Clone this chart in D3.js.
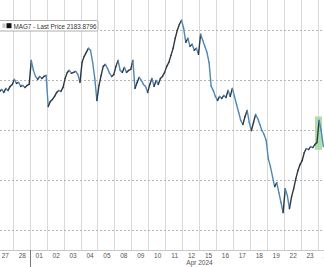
<!DOCTYPE html>
<html><head><meta charset="utf-8">
<script src="https://cdn.jsdelivr.net/npm/d3@7"></script>
<style>
html,body{margin:0;padding:0;background:#fff;}
svg{display:block;font-family:"Liberation Sans",Arial,sans-serif;}
</style></head>
<body><div id="chart"></div>
<script>
const dayLabels = ["27","28","01","02","03","04","05","08","09","10","11","12","15","16","17","18","19","22","23","24"];
const monthLabel = "Apr 2024";
const monthLabelAt = 12;      // day boundary index where month label is centred
const monthStartIdx = 2;      // first April trading day
const gridValues = [2300, 2250, 2200, 2150, 2100];
const legendText = "MAG7 - Last Price 2183.8796";
// intraday prices per trading day (8 samples per session)
const prices = [
  [2242,2239,2241,2238,2242,2240,2244,2246],
  [2251,2247,2248,2244,2245,2243,2245,2246],
  [2270,2260,2254,2251,2254,2252,2254,2255],
  [2224,2229,2231,2234,2238,2240,2239,2243],
  [2252,2258,2260,2257,2258,2259,2256,2248],
  [2268,2274,2278,2282,2280,2268,2252,2230],
  [2245,2255,2264,2266,2262,2257,2254,2256],
  [2264,2270,2260,2258,2263,2258,2260,2261],
  [2270,2242,2248,2253,2250,2246,2244,2238],
  [2246,2252,2244,2250,2246,2252,2254,2258],
  [2264,2268,2275,2282,2292,2300,2306,2310],
  [2302,2288,2292,2284,2286,2280,2282,2276],
  [2296,2290,2284,2278,2268,2244,2240,2234],
  [2230,2234,2232,2235,2233,2240,2234,2242],
  [2234,2226,2218,2210,2206,2214,2220,2208],
  [2200,2208,2216,2212,2206,2200,2196,2190],
  [2172,2164,2154,2144,2148,2138,2128,2118],
  [2142,2135,2122,2134,2142,2152,2160,2166],
  [2170,2178,2182,2181,2184,2183,2186,2188],
  [2210,2200,2183.8796]
];
const samplesPerDay = 8;
const highlightX = [18.82, 19.23];   // in trading-day units
const highlightY = [2180.7, 2214];

const W = 324, H = 267;
const svg = d3.select("#chart").append("svg").attr("width", W).attr("height", H);

const x = d3.scaleLinear().domain([0, 20]).range([-3.63, -3.63 + 16.93 * 20]);
const y = d3.scaleLinear().domain([2100, 2300]).range([230.7, 30.3]);
const axisY = 250;

// vertical day gridlines
svg.append("g").selectAll("line").data(d3.range(1, 20)).join("line")
  .attr("x1", d => x(d)).attr("x2", d => x(d))
  .attr("y1", 0).attr("y2", axisY)
  .attr("stroke", "#d9d9d9").attr("stroke-width", 1).attr("shape-rendering", "crispEdges");

// horizontal dotted gridlines
svg.append("g").selectAll("line").data(gridValues).join("line")
  .attr("x1", 0).attr("x2", W)
  .attr("y1", d => y(d)).attr("y2", d => y(d))
  .attr("stroke", "#b5b5b5").attr("stroke-width", 1).attr("stroke-dasharray", "1.5,2.5")
  .attr("shape-rendering", "crispEdges");

// highlight rect
svg.append("rect")
  .attr("x", x(highlightX[0])).attr("width", x(highlightX[1]) - x(highlightX[0]))
  .attr("y", y(highlightY[1])).attr("height", y(highlightY[0]) - y(highlightY[1]))
  .attr("fill", "#9fd89f").attr("opacity", 0.85);

// flatten series
const pts = [];
prices.forEach((arr, i) => arr.forEach((v, j) => pts.push({u: i + (j + 0.5) / samplesPerDay, v})));

const segs = [];
for (let k = 1; k < pts.length; k++) segs.push([pts[k - 1], pts[k]]);
svg.append("g").selectAll("line").data(segs).join("line")
  .attr("x1", d => x(d[0].u)).attr("y1", d => y(d[0].v))
  .attr("x2", d => x(d[1].u)).attr("y2", d => y(d[1].v))
  .attr("stroke", d => d[1].v < d[0].v ? "#4f88b8" : "#2e3840")
  .attr("stroke-width", 1.4).attr("stroke-linecap", "round");

// x axis
const axis = d3.axisBottom(x)
  .tickValues(d3.range(dayLabels.length).map(i => i + 0.5))
  .tickFormat((d, i) => dayLabels[i]).tickSize(0).tickPadding(3);
const gx = svg.append("g").attr("transform", `translate(0,${axisY})`).call(axis);
gx.select(".domain").attr("stroke", "#c8c8c8").attr("d", `M0,0.5H${W}`);
gx.selectAll("text").attr("fill", "#555").style("font-size", "6.5px")
  .style("font-family", "'Liberation Sans',Arial,sans-serif");

// month separator
svg.append("line")
  .attr("x1", x(monthStartIdx)).attr("x2", x(monthStartIdx))
  .attr("y1", axisY).attr("y2", H)
  .attr("stroke", "#777").attr("stroke-width", 1).attr("shape-rendering", "crispEdges");

svg.append("text").attr("x", x(monthLabelAt)).attr("y", 265)
  .attr("text-anchor", "middle").attr("fill", "#555").style("font-size", "6.5px")
  .text(monthLabel);

// legend
const lg = svg.append("g");
lg.append("rect").attr("x", -2).attr("y", 20.5).attr("width", 100).attr("height", 10.5)
  .attr("rx", 1.5).attr("fill", "#fff").attr("stroke", "#9a9a9a").attr("stroke-width", 0.8);
lg.append("rect").attr("x", 2.5).attr("y", 23.5).attr("width", 3).attr("height", 4.5).attr("fill", "#c8c8c8");
lg.append("rect").attr("x", 6.5).attr("y", 23.2).attr("width", 5).attr("height", 5).attr("fill", "#111");
lg.append("text").attr("x", 13.5).attr("y", 28.5).attr("fill", "#333").style("font-size", "6.3px")
  .text(legendText);
</script></body></html>
